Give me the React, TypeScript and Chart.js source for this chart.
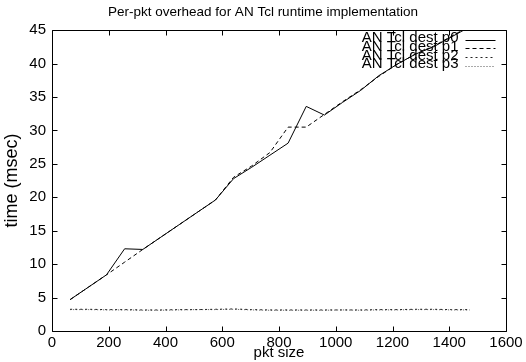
import React, { useEffect, useRef } from "react";
import { Chart, registerables } from "chart.js";

Chart.register(...registerables);

const pktSizes = [64, 128, 192, 256, 320, 384, 448, 512, 576, 640, 704, 768, 832, 896, 960, 1024, 1088, 1152, 1216, 1280, 1344, 1408, 1472];
const destP0 = [4.7, 6.55, 8.4, 12.3, 12.2, 14.05, 15.9, 17.75, 19.6, 22.8, 24.5, 26.3, 28.1, 33.6, 32.3, 34.2, 36.0, 38.2, 39.9, 41.4, 42.5, 44.0, 45.5];
const destP1 = [4.7, 6.55, 8.4, 10.3, 12.2, 14.05, 15.9, 17.75, 19.6, 23.0, 24.7, 26.7, 30.5, 30.5, 32.4, 34.3, 36.1, 38.1, 39.9, 41.4, 42.6, 44.1, 45.6];
const destP2 = [3.25, 3.25, 3.2, 3.2, 3.15, 3.15, 3.2, 3.2, 3.25, 3.3, 3.2, 3.15, 3.15, 3.15, 3.15, 3.15, 3.15, 3.2, 3.2, 3.25, 3.25, 3.2, 3.2];
const destP3 = [3.2, 3.2, 3.15, 3.15, 3.1, 3.1, 3.15, 3.2, 3.2, 3.25, 3.15, 3.1, 3.1, 3.1, 3.1, 3.15, 3.1, 3.15, 3.15, 3.2, 3.2, 3.15, 3.15];

const seriesNames = ["AN Tcl dest p0", "AN Tcl dest p1", "AN Tcl dest p2", "AN Tcl dest p3"];
const seriesValues = [destP0, destP1, destP2, destP3];
const seriesDash = [[], [4, 3], [2, 3], [1, 2]];
const seriesColor = ["#000000", "#000000", "#222222", "#555555"];

const titleText = "Per-pkt overhead for AN Tcl runtime implementation";
const xTitle = "pkt size";
const yTitle = "time (msec)";

const FONT = "'Liberation Sans', Arial, sans-serif";

const framePlugin = {
  id: "gnuplotFrame",
  afterDraw(chart: any) {
    const ctx = chart.ctx;
    const { left, right, top, bottom } = chart.chartArea;
    const xs = chart.scales.x;
    const ys = chart.scales.y;
    ctx.save();
    ctx.strokeStyle = "#000";
    ctx.lineWidth = 1;
    ctx.setLineDash([]);
    const L = Math.round(left) + 0.5;
    const R = Math.round(right) + 0.5;
    const T = Math.round(top) + 0.5;
    const B = Math.round(bottom) + 0.5;
    ctx.beginPath();
    ctx.rect(L, T, R - L, B - T);
    ctx.stroke();
    const tl = 5;
    ctx.beginPath();
    xs.ticks.forEach((t: any) => {
      const px = Math.round(xs.getPixelForValue(t.value)) + 0.5;
      ctx.moveTo(px, B);
      ctx.lineTo(px, B - tl);
      ctx.moveTo(px, T);
      ctx.lineTo(px, T + tl);
    });
    ys.ticks.forEach((t: any) => {
      const py = Math.round(ys.getPixelForValue(t.value)) + 0.5;
      ctx.moveTo(L, py);
      ctx.lineTo(L + tl, py);
      ctx.moveTo(R, py);
      ctx.lineTo(R - tl, py);
    });
    ctx.stroke();

    // legend (gnuplot style, right-aligned text with sample lines)
    ctx.font = "15px " + FONT;
    ctx.fillStyle = "#000";
    ctx.textAlign = "right";
    ctx.textBaseline = "alphabetic";
    const textRight = R - 48;
    const base0 = T + 11.5;
    const rowH = 8.8;
    chart.data.datasets.forEach((ds: any, i: number) => {
      const by = base0 + i * rowH;
      ctx.fillText(ds.label, textRight, by);
      ctx.beginPath();
      ctx.strokeStyle = ds.borderColor;
      ctx.setLineDash(ds.borderDash || []);
      const ly = Math.round(by - 2.5) + 0.5;
      ctx.moveTo(textRight + 7, ly);
      ctx.lineTo(textRight + 37, ly);
      ctx.stroke();
    });
    ctx.restore();
  },
};

export default function App() {
  const ref = useRef<HTMLCanvasElement | null>(null);
  useEffect(() => {
    document.body.style.margin = "0";
    const canvas = ref.current;
    if (!canvas) return;
    const chart = new Chart(canvas, {
      type: "line",
      data: {
        datasets: seriesValues.map((vals, i) => ({
          label: seriesNames[i],
          data: vals.map((v, j) => ({ x: pktSizes[j], y: v })),
          borderColor: seriesColor[i],
          borderWidth: 1,
          borderDash: seriesDash[i],
          pointRadius: 0,
          fill: false,
          tension: 0,
          yAxisID: "y",
        })),
      },
      options: {
        animation: false,
        responsive: false,
        maintainAspectRatio: false,
        layout: { padding: 0 },
        plugins: {
          legend: { display: false },
          tooltip: { enabled: false },
          title: {
            display: true,
            text: titleText,
            color: "#000",
            font: { family: FONT, size: 13.5, weight: "normal" },
            padding: { top: 4, bottom: 10 },
          },
        },
        scales: {
          x: {
            type: "linear",
            min: 0,
            max: 1600,
            ticks: {
              stepSize: 200,
              color: "#000",
              font: { family: FONT, size: 15 },
              padding: 3,
              maxRotation: 0,
              autoSkip: false,
              callback: (v: any) => String(v),
            },
            grid: { display: false, drawTicks: false },
            border: { display: false },
            title: {
              display: true,
              text: xTitle,
              color: "#000",
              font: { family: FONT, size: 15 },
              padding: { top: 0, bottom: 0 },
            },
            afterFit: (s: any) => {
              s.height = 31;
            },
          },
          y: {
            min: 0,
            max: 45,
            ticks: {
              stepSize: 5,
              color: "#000",
              font: { family: FONT, size: 15 },
              padding: 6,
            },
            grid: { display: false, drawTicks: false },
            border: { display: false },
            title: {
              display: true,
              text: yTitle,
              color: "#000",
              font: { family: FONT, size: 18 },
              padding: { top: 1, bottom: 2 },
            },
            afterFit: (s: any) => {
              s.width = 52;
            },
          },
          y2: {
            position: "right",
            min: 0,
            max: 45,
            ticks: { display: false },
            grid: { display: false, drawTicks: false },
            border: { display: false },
            afterFit: (s: any) => {
              s.width = 20;
            },
          },
        },
      },
      plugins: [framePlugin],
    });
    return () => chart.destroy();
  }, []);
  return <canvas ref={ref} width={526} height={362} style={{ display: "block" }} />;
}
